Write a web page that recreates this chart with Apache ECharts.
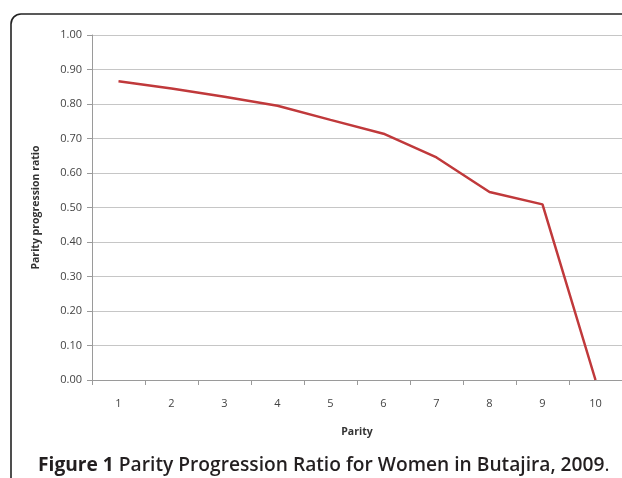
<!DOCTYPE html>
<html><head><meta charset="utf-8">
<script src="https://cdn.jsdelivr.net/npm/echarts@6/dist/echarts.min.js"></script>
<style>html,body{margin:0;padding:0;background:#fff}#c{width:622px;height:478px}</style>
</head><body><div id="c"></div>
<script>
var categories = ['1','2','3','4','5','6','7','8','9','10'];
var ratios = [0.866, 0.845, 0.821, 0.795, 0.754, 0.714, 0.645, 0.545, 0.509, 0.0];
var yTitle = 'Parity progression ratio';
var xTitle = 'Parity';

var chart = echarts.init(document.getElementById('c'));
chart.setOption({
  animation: false,
  backgroundColor: '#fff',
  graphic: [
    {type: 'line', shape: {x1: 11, y1: 24, x2: 11, y2: 490}, style: {stroke: '#222', lineWidth: 1.6}, z: 100},
    {type: 'line', shape: {x1: 21, y1: 14, x2: 640, y2: 14}, style: {stroke: '#222', lineWidth: 1.6}, z: 100},
    {type: 'arc', shape: {cx: 21, cy: 24, r: 10, startAngle: Math.PI, endAngle: Math.PI * 1.5}, style: {stroke: '#222', fill: 'none', lineWidth: 1.6}, z: 100}
  ],
  title: {
    left: 33, top: 451,
    text: '{b|Figure 1} {n|Parity Progression Ratio for Women in Butajira, 2009}{d|.}',
    textStyle: {
      rich: {
        b: {fontFamily: 'Open Sans', fontWeight: 'bold', fontSize: 19.2, color: '#231f20'},
        n: {fontFamily: 'Open Sans', fontWeight: 600, fontSize: 19.2, color: '#231f20'},
        d: {fontFamily: 'Open Sans', fontWeight: 'normal', fontSize: 19.2, color: '#231f20'}
      },
      fontFamily: 'Open Sans', fontSize: 19.2, fontWeight: 'normal', color: '#231f20'
    }
  },
  grid: {left: 92, top: 35, bottom: 98, right: -5},
  xAxis: {
    type: 'category', data: categories, boundaryGap: true,
    name: xTitle, nameLocation: 'middle', nameGap: 47,
    nameTextStyle: {fontFamily: 'Open Sans', fontWeight: 'bold', fontSize: 10.5, color: '#333'},
    axisLine: {lineStyle: {color: '#9a9a9a', width: 1}},
    axisTick: {show: true, length: 5, lineStyle: {color: '#9a9a9a'}},
    axisLabel: {margin: 18, fontFamily: 'Open Sans', fontSize: 11, color: '#444'}
  },
  yAxis: {
    type: 'value', min: 0, max: 1, interval: 0.1,
    name: yTitle, nameLocation: 'middle', nameGap: 50,
    nameTextStyle: {fontFamily: 'Open Sans', fontWeight: 'bold', fontSize: 10.5, color: '#333'},
    axisLine: {show: true, lineStyle: {color: '#9a9a9a', width: 1}},
    axisTick: {show: true, length: 5, lineStyle: {color: '#9a9a9a'}},
    axisLabel: {margin: 10, fontFamily: 'Open Sans', fontSize: 11, color: '#444',
      formatter: function (v) { return v.toFixed(2); }},
    splitLine: {lineStyle: {color: '#c6c6c6', width: 1}}
  },
  series: [{
    type: 'line', data: ratios, showSymbol: false, symbol: 'none',
    lineStyle: {color: '#c0393b', width: 2.5}
  }]
});
</script></body></html>
